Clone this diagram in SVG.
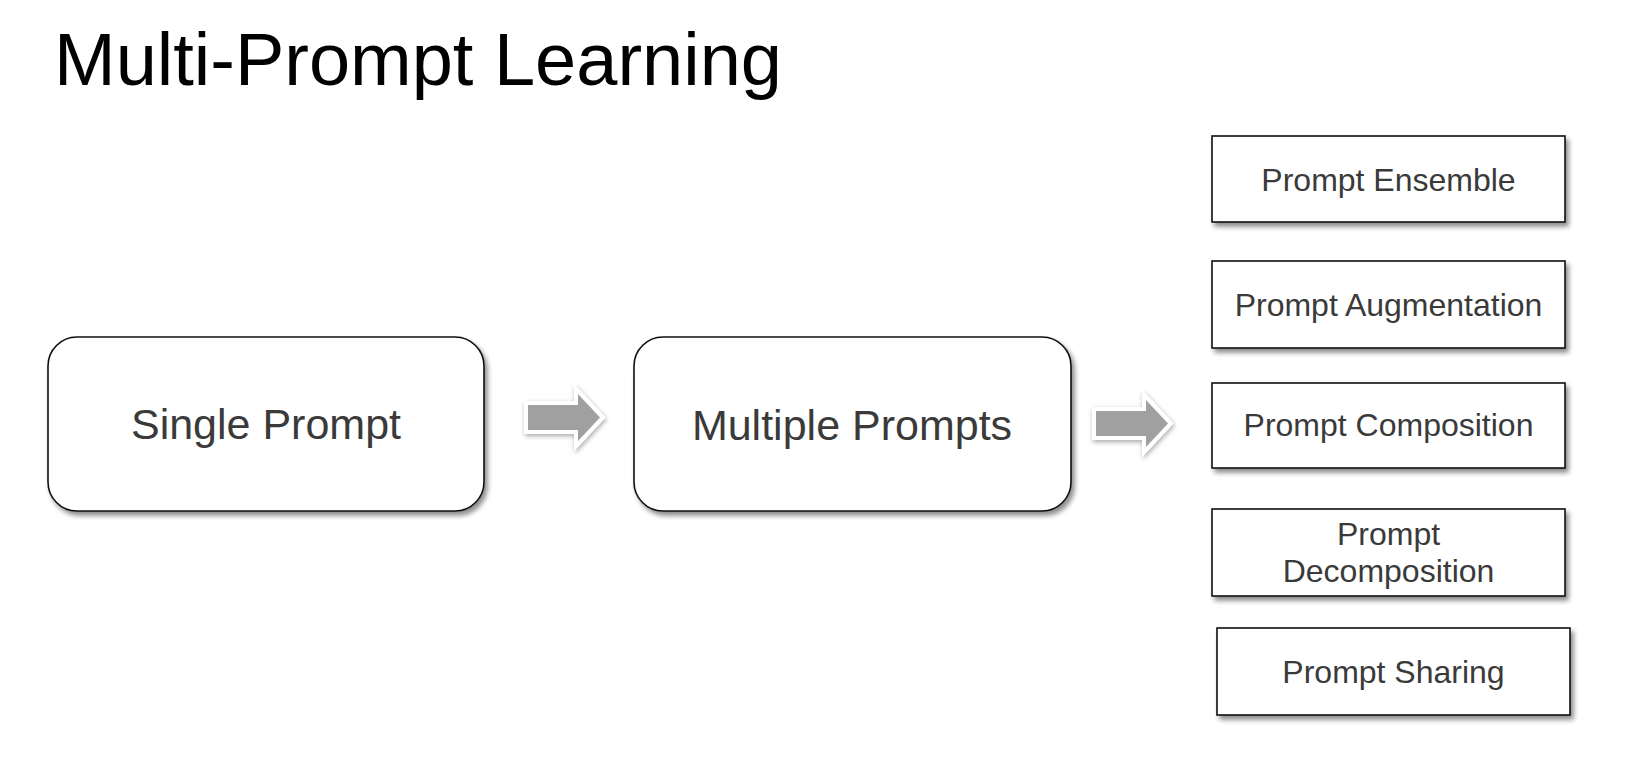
<svg xmlns="http://www.w3.org/2000/svg" width="1644" height="772" viewBox="0 0 1644 772">
<defs>
<filter id="sh" x="-10%" y="-10%" width="125%" height="135%">
<feGaussianBlur in="SourceAlpha" stdDeviation="2.5"/>
<feOffset dx="3" dy="4" result="b"/>
<feComponentTransfer><feFuncA type="linear" slope="0.45"/></feComponentTransfer>
<feMerge><feMergeNode/><feMergeNode in="SourceGraphic"/></feMerge>
</filter>
<filter id="ash" x="-20%" y="-20%" width="150%" height="160%">
<feGaussianBlur in="SourceAlpha" stdDeviation="2.5"/>
<feOffset dx="1" dy="2" result="b"/>
<feComponentTransfer><feFuncA type="linear" slope="0.35"/></feComponentTransfer>
<feMerge><feMergeNode/><feMergeNode in="SourceGraphic"/></feMerge>
</filter>
</defs>
<style>
.big{fill:#fff;stroke:#111;stroke-width:1.6}
.sq{fill:#fff;stroke:#111;stroke-width:1.6}
.t{font-family:"Liberation Sans",Arial,Helvetica,sans-serif;fill:#3a3a3a;text-anchor:middle}
.tb{font-size:43px}
.ts{font-size:32px}
.arr{fill:#a0a0a0;stroke:#fff;stroke-width:8;stroke-linejoin:miter;paint-order:stroke}
</style>
<rect width="1644" height="772" fill="#fff"/>
<text x="54" y="85" font-family="'Liberation Sans',Arial,Helvetica,sans-serif" font-size="74" fill="#000">Multi-Prompt Learning</text>

<g id="connectors">
<g filter="url(#ash)">
<path class="arr" d="M528,405 L578,405 L578,394 L600,417.5 L578,441 L578,430 L528,430 Z"/>
<path class="arr" d="M1096,411 L1146,411 L1146,400 L1168,423.5 L1146,447 L1146,436 L1096,436 Z"/>
</g>
</g>

<g id="single">
<rect class="big" x="48" y="337" width="436" height="174" rx="29" filter="url(#sh)"/>
<text class="t tb" x="266" y="439">Single Prompt</text>
</g>
<g id="multiple">
<rect class="big" x="634" y="337" width="437" height="174" rx="29" filter="url(#sh)"/>
<text class="t tb" x="852" y="440">Multiple Prompts</text>
</g>
<g id="ensemble">
<rect class="sq" x="1212" y="136" width="353" height="86" filter="url(#sh)"/>
<text class="t ts" x="1388.5" y="191">Prompt Ensemble</text>
</g>
<g id="augmentation">
<rect class="sq" x="1212" y="261" width="353" height="87" filter="url(#sh)"/>
<text class="t ts" x="1388.5" y="316">Prompt Augmentation</text>
</g>
<g id="composition">
<rect class="sq" x="1212" y="383" width="353" height="85" filter="url(#sh)"/>
<text class="t ts" x="1388.5" y="436">Prompt Composition</text>
</g>
<g id="decomposition">
<rect class="sq" x="1212" y="509" width="353" height="87" filter="url(#sh)"/>
<text class="t ts" x="1388.5" y="545">Prompt</text>
<text class="t ts" x="1388.5" y="582">Decomposition</text>
</g>
<g id="sharing">
<rect class="sq" x="1217" y="628" width="353" height="87" filter="url(#sh)"/>
<text class="t ts" x="1393.5" y="683">Prompt Sharing</text>
</g>
</svg>
